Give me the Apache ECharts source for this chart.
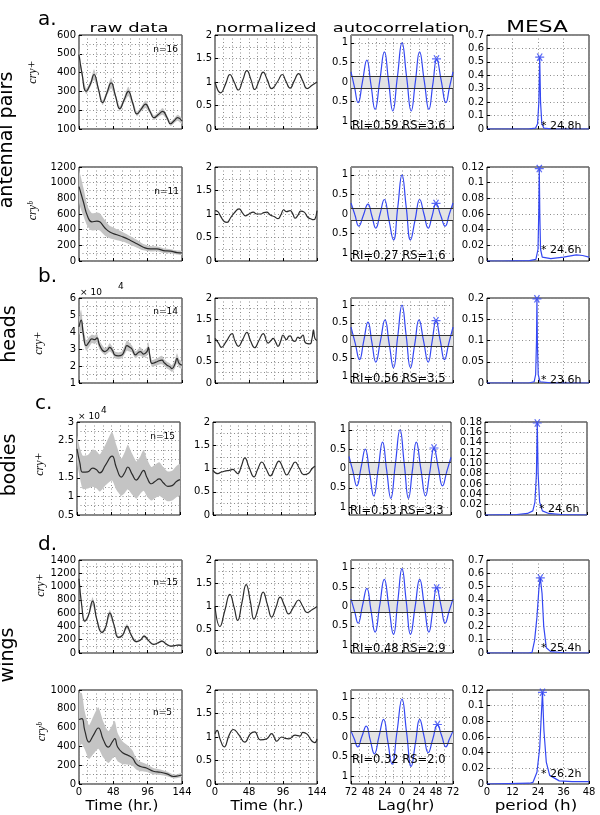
<!DOCTYPE html>
<html>
<head>
<meta charset="utf-8">
<script src="https://cdn.jsdelivr.net/npm/echarts@6/dist/echarts.min.js"></script>
<style>
  html, body { margin: 0; padding: 0; background: #fff; }
  #container { width: 600px; height: 815px; }
</style>
</head>
<body>
<div id="container"></div>
<script>
// ---- raw data: [hour, value], band = +/- error ----
var antCryRaw = [[0,495],[4,400],[10,300],[16,340],[21,390],[27,315],[33,240],[39,292],[45,345],[51,276],[57,208],[63,254],[69,300],[75,240],[81,180],[87,206],[93,232],[99,196],[105,160],[111,177],[117,194],[123,161],[128,128],[133,144],[138,160],[144,142]];
var antCryRawErr = [30,20,15,15,28,15,12,15,28,15,12,15,25,15,12,12,20,12,12,12,18,12,12,12,16,15];
var antCrybRaw = [[0,950],[6,760],[12,570],[18,500],[25,510],[29,500],[36,425],[43,370],[53,335],[62,305],[72,262],[81,220],[90,176],[100,155],[109,155],[118,133],[128,125],[137,108],[144,103]];
var antCrybRawErr = [200,180,130,110,110,110,100,80,70,60,55,50,40,35,30,30,25,25,25];
var headCryRaw = [[0,4.3],[3,4.7],[6,3.9],[10,3.2],[14,3.4],[18,3.6],[22,3.55],[25,3.65],[29,3.2],[36,2.85],[40,2.95],[43,3.1],[47,2.9],[50,2.65],[55,2.6],[60,2.65],[64,2.95],[67,3.2],[71,3.1],[74,3.0],[79,2.65],[83,2.8],[86,2.85],[90,2.7],[95,2.85],[97,3.1],[99,2.6],[102,2.15],[106,2.2],[109,2.25],[116,2.35],[119,2.2],[123,2.05],[127,1.95],[130,1.85],[134,2.1],[137,2.45],[140,2.15],[144,2.05]];
var headCryRawErr = [0.5,0.6,0.4,0.3,0.3,0.25,0.25,0.25,0.25,0.2,0.2,0.25,0.2,0.2,0.2,0.2,0.25,0.3,0.25,0.2,0.2,0.2,0.25,0.2,0.25,0.3,0.25,0.2,0.2,0.2,0.25,0.2,0.2,0.2,0.2,0.25,0.3,0.25,0.2];
var bodyCryRaw = [[0,2.28],[4,1.9],[8,1.65],[15,1.66],[22,1.76],[27,1.72],[32,1.63],[40,1.85],[49,2.08],[55,1.78],[62,1.52],[67,1.65],[71,1.79],[77,1.6],[83,1.44],[88,1.56],[93,1.7],[98,1.5],[104,1.34],[109,1.4],[115,1.47],[121,1.36],[127,1.27],[133,1.29],[139,1.4],[144,1.45]];
var bodyCryRawErr = [0.35,0.4,0.45,0.45,0.5,0.5,0.5,0.55,0.65,0.6,0.5,0.55,0.6,0.55,0.5,0.5,0.55,0.5,0.45,0.45,0.45,0.42,0.4,0.4,0.42,0.42];
var wingCryRaw = [[0,1120],[4,700],[8,480],[13,560],[19,780],[25,500],[32,310],[37,380],[43,600],[49,420],[55,235],[61,270],[67,400],[73,270],[80,170],[86,195],[91,255],[97,190],[104,130],[110,150],[116,180],[122,135],[128,105],[134,112],[139,120],[144,115]];
var wingCryRawErr = [40,30,20,25,60,25,20,25,50,25,15,20,35,20,15,15,25,15,12,12,15,12,10,10,12,12];
var wingCrybRaw = [[0,686],[4,696],[8,571],[14,446],[20,518],[27,596],[34,471],[41,393],[47,454],[50,482],[54,393],[61,332],[69,304],[75,275],[80,214],[86,186],[95,168],[104,136],[114,125],[123,107],[132,80],[138,85],[144,96]];
var wingCrybRawErr = [280,270,200,180,200,220,190,170,180,190,150,120,100,80,60,50,40,35,30,25,20,20,20];

// ---- normalized: [hour, value] ----
var antCryNorm = [[0,1.0],[8,0.77],[15,0.96],[21,1.16],[27,1.0],[33,0.83],[39,1.03],[45,1.24],[51,1.04],[56,0.84],[62,1.02],[68,1.21],[74,1.04],[80,0.86],[88,1.0],[95,1.16],[100,1.02],[106,0.87],[112,1.03],[118,1.18],[124,1.02],[130,0.86],[137,0.93],[144,1.0]];
var antCrybNorm = [[0,1.07],[4,1.05],[8,0.95],[13,0.84],[17,0.82],[22,0.92],[27,1.02],[34,1.11],[39,1.02],[43,0.96],[48,1.0],[54,1.04],[59,1.0],[64,1.0],[69,1.03],[73,1.04],[78,0.98],[84,0.94],[89,0.9],[93,0.98],[97,1.09],[101,1.05],[106,1.07],[110,1.0],[113,0.91],[117,0.97],[121,1.06],[126,1.04],[131,0.93],[135,0.9],[139,0.88],[141,0.89],[144,1.07]];
var headCryNorm = [[0,1.05],[5,0.94],[9,0.84],[16,0.98],[24,1.16],[28,1.0],[33,0.86],[39,1.02],[45,1.19],[50,1.0],[56,0.83],[62,1.0],[68,1.16],[75,0.94],[79,1.0],[82,1.05],[86,0.95],[89,0.86],[93,1.0],[96,1.13],[101,1.02],[104,1.1],[106,1.11],[110,1.0],[113,0.98],[117,1.08],[120,1.05],[124,1.13],[128,0.94],[134,0.92],[137,1.05],[139,1.25],[141,1.05],[144,1.0]];
var bodyCryNorm = [[0,0.96],[4,0.9],[7,0.89],[11,0.92],[14,0.93],[18,0.95],[23,0.96],[28,0.98],[32,0.93],[35,0.89],[40,1.05],[45,1.23],[51,1.02],[58,0.82],[63,0.98],[69,1.14],[75,0.99],[81,0.84],[87,1.0],[93,1.16],[99,1.0],[104,0.86],[110,1.0],[116,1.14],[122,1.0],[128,0.87],[135,0.9],[140,1.0],[144,1.05]];
var wingCryNorm = [[0,1.0],[7,0.57],[14,0.92],[21,1.26],[27,0.98],[32,0.7],[38,1.08],[44,1.47],[50,1.1],[55,0.73],[62,1.02],[68,1.31],[74,1.04],[80,0.77],[86,0.98],[92,1.2],[98,1.02],[104,0.84],[111,0.99],[118,1.14],[124,1.0],[130,0.87],[137,0.93],[144,1.0]];
var wingCrybNorm = [[0,1.07],[3,1.14],[7,0.96],[13,0.79],[20,1.04],[26,1.16],[34,1.04],[42,0.89],[50,1.07],[56,1.11],[64,0.94],[73,0.96],[80,1.07],[84,0.98],[87,0.91],[94,1.0],[99,0.97],[104,0.96],[113,1.04],[120,1.02],[124,1.1],[130,1.06],[135,0.95],[138,0.9],[141,0.88],[144,0.96]];

// ---- autocorrelation: [lag, r] ----
var antCryAcf = [[-72,0.26],[-67,-0.14],[-62,-0.53],[-55.8,0.01],[-49.6,0.56],[-43.8,-0.07],[-38,-0.7],[-31.4,0.03],[-24.8,0.77],[-18.9,0.01],[-13,-0.74],[-6.5,0.13],[0,1.0],[6.5,0.13],[13,-0.74],[18.9,0.01],[24.8,0.77],[31.4,0.03],[38,-0.7],[43.5,-0.06],[49,0.58],[55.5,0.02],[62,-0.53],[67,-0.14],[72,0.26]];
var antCrybAcf = [[-72,0.28],[-66.5,-0.02],[-61,-0.31],[-54.5,-0.03],[-48,0.25],[-42.5,-0.05],[-37,-0.36],[-31,0.0],[-25,0.37],[-18.5,-0.15],[-12,-0.66],[-6,0.17],[0,1.0],[6,0.17],[12,-0.66],[18.5,-0.15],[25,0.37],[31,0.0],[37,-0.36],[42.5,-0.05],[48,0.26],[54.5,-0.03],[61,-0.31],[66.5,-0.02],[72,0.28]];
var headCryAcf = [[-72,0.38],[-66,-0.08],[-60,-0.54],[-54,-0.01],[-48,0.52],[-42.5,-0.05],[-37,-0.61],[-30.5,-0.02],[-24,0.58],[-18,-0.1],[-12,-0.77],[-6,0.12],[0,1.0],[6,0.12],[12,-0.77],[18,-0.1],[24,0.58],[30.5,-0.02],[37,-0.61],[42.5,-0.03],[48,0.55],[54,0.0],[60,-0.54],[66,-0.08],[72,0.38]];
var bodyCryAcf = [[-72,0.31],[-66.5,-0.07],[-61,-0.45],[-55,0.02],[-49,0.5],[-43,-0.1],[-37,-0.71],[-30.8,-0.02],[-24.6,0.68],[-18.8,-0.05],[-13,-0.77],[-6.5,0.12],[0,1.0],[6,0.12],[12,-0.77],[17.5,-0.05],[23,0.68],[29.5,-0.02],[36,-0.71],[42,-0.1],[48,0.52],[54,0.03],[60,-0.45],[66,-0.08],[72,0.29]];
var wingCryAcf = [[-72,0.19],[-67,-0.12],[-62,-0.43],[-55.8,0.02],[-49.6,0.47],[-43.8,-0.1],[-38,-0.66],[-31.5,0.02],[-25,0.7],[-18.5,-0.01],[-12,-0.72],[-6,0.13],[0,0.98],[6,0.13],[12,-0.72],[18.5,-0.01],[25,0.7],[31.5,0.02],[38,-0.66],[43.5,-0.09],[49,0.48],[55,0.03],[61,-0.43],[66.5,-0.12],[72,0.19]];
var wingCrybAcf = [[-72,0.15],[-67.3,-0.05],[-62.6,-0.25],[-56.5,0.02],[-50.5,0.28],[-44.8,-0.08],[-39,-0.43],[-32.5,0.01],[-26,0.45],[-20,-0.12],[-14,-0.69],[-7,0.14],[0,0.97],[6.5,0.11],[13,-0.75],[19,-0.15],[25,0.45],[31,0.03],[37,-0.4],[43.5,-0.05],[50,0.31],[56,0.03],[62,-0.25],[67,-0.05],[72,0.15]];
var acfStars = [[48.7,0.59],[48,0.27],[48,0.56],[48,0.53],[49,0.48],[50,0.32]];
var acfLimit = [0.155, 0.155, 0.155, 0.155, 0.16, 0.155];

// ---- MESA spectra: [period h, power] ----
var antCryMesa = [[0,0],[20,0.001],[22.8,0.006],[23.8,0.04],[24.4,0.2],[24.8,0.535],[25.2,0.2],[25.8,0.04],[26.8,0.006],[30,0.001],[48,0]];
var antCrybMesa = [[0,0],[7.6,0],[7.8,0.002],[8.0,0],[20,0.0005],[23,0.002],[24,0.015],[24.35,0.06],[24.6,0.118],[24.85,0.06],[25.2,0.015],[26,0.005],[30,0.003],[36,0.005],[42,0.0078],[45,0.007],[48,0.005]];
var headCryMesa = [[0,0],[20,0.0005],[22.2,0.003],[22.9,0.02],[23.3,0.1],[23.5,0.198],[23.7,0.1],[24.1,0.02],[24.9,0.003],[30,0.0005],[48,0]];
var bodyCryMesa = [[0,0],[15,0.001],[20,0.003],[22.5,0.008],[23.5,0.025],[24.2,0.08],[24.6,0.178],[25.0,0.08],[25.7,0.025],[27,0.008],[30,0.003],[36,0.001],[48,0]];
var wingCryMesa = [[0,0],[20,0.001],[21.2,0.005],[22.4,0.095],[23.5,0.27],[24.5,0.5],[25.1,0.565],[25.9,0.45],[26.7,0.2],[27.9,0.04],[30,0.01],[36,0.002],[48,0]];
var wingCrybMesa = [[0,0],[20,0.001],[21.6,0.002],[23.5,0.015],[24.8,0.046],[25.6,0.09],[26.1,0.117],[26.8,0.068],[27.9,0.028],[29.5,0.011],[34,0.004],[40,0.003],[48,0.003]];
var mesaStars = [[24.8,0.535],[24.6,0.118],[23.5,0.198],[24.6,0.178],[25.1,0.565],[26.1,0.117]];

// ---- axis ranges / tick labels ----
var rawYMin = [100, 0, 1, 0.5, 0, 0];
var rawYMax = [600, 1200, 6, 3, 1400, 1000];
var rawYStep = [100, 200, 1, 0.5, 200, 200];
var mesaYMax = [0.7, 0.12, 0.2, 0.18, 0.7, 0.12];
var mesaYStep = [0.1, 0.02, 0.05, 0.02, 0.1, 0.02];
var acfTicks = [-1, -0.5, 0, 0.5, 1];

// ---- texts ----
var columnTitles = ['raw data', 'normalized', 'autocorrelation', 'MESA'];
var bottomTitles = ['Time (hr.)', 'Time (hr.)', 'Lag(hr)', 'period (h)'];
var groupNames = ['antennal pairs', 'heads', 'bodies', 'wings'];
var groupLetters = ['a.', 'b.', 'c.', 'd.'];
var genotypes = ['cry+', 'cry\u1d47', 'cry+', 'cry+', 'cry+', 'cry\u1d47'];
var sampleSizes = ['n=16', 'n=11', 'n=14', 'n=15', 'n=15', 'n=5'];
var rhythmStats = ['RI=0.59 RS=3.6', 'RI=0.27 RS=1.6', 'RI=0.56 RS=3.5', 'RI=0.53 RS=3.3', 'RI=0.48 RS=2.9', 'RI=0.32 RS=2.0'];
var mesaPeriods = ['24.8h', '24.6h', '23.6h', '24.6h', '25.4h', '26.2h'];

var rawSeries = [antCryRaw, antCrybRaw, headCryRaw, bodyCryRaw, wingCryRaw, wingCrybRaw];
var rawErrors = [antCryRawErr, antCrybRawErr, headCryRawErr, bodyCryRawErr, wingCryRawErr, wingCrybRawErr];
var normSeries = [antCryNorm, antCrybNorm, headCryNorm, bodyCryNorm, wingCryNorm, wingCrybNorm];
var acfSeries = [antCryAcf, antCrybAcf, headCryAcf, bodyCryAcf, wingCryAcf, wingCrybAcf];
var mesaSeries = [antCryMesa, antCrybMesa, headCryMesa, bodyCryMesa, wingCryMesa, wingCrybMesa];

// layout
var colLeft = [79, 215, 351, 487];
var colWidth = [103, 102, 102, 102];
var rowTop = [35, 167, 298, 422, 560, 690];
var rowHeight = [94, 94, 85, 93, 93, 94];
var rowShift = [0, 0, 0, -2, 0, 0];

var blue = '#3447f2';
var dots = { color: '#8c8c8c', type: [1, 2.5], width: 1 };
var asterisk = 'path://M0,4.3L10,4.3L10,5.7L0,5.7Z M1.6,0.9L2.8,0.2L8.4,9.1L7.2,9.8Z M7.2,0.2L8.4,0.9L2.8,9.8L1.6,9.1Z';

function baseAxis(gi, showLabel) {
    return {
        type: 'value',
        gridIndex: gi,
        axisLine: { show: false, onZero: false },
        axisTick: { show: true, inside: true, length: 3, lineStyle: { color: '#000' } },
        axisLabel: { show: showLabel, fontFamily: 'DejaVu Sans', fontSize: 10, color: '#000', margin: 3 },
        splitLine: { show: true, lineStyle: dots },
        minorTick: { show: false, splitNumber: 2 },
        minorSplitLine: { show: false, lineStyle: dots }
    };
}

function bandRenderer(points, errs) {
    return function (params, api) {
        if (params.dataIndex !== 0) return null;
        var upper = [], lower = [];
        for (var i = 0; i < points.length; i++) {
            upper.push(api.coord([points[i][0], points[i][1] + errs[i]]));
            lower.unshift(api.coord([points[i][0], points[i][1] - errs[i]]));
        }
        return {
            type: 'polygon',
            shape: { points: upper.concat(lower), smooth: 0.2 },
            style: { fill: '#c4c4c4' }
        };
    };
}

var grids = [], xAxes = [], yAxes = [], series = [];

for (var r = 0; r < 6; r++) {
    var last = r === 5;
    for (var c = 0; c < 4; c++) {
        var gi = r * 4 + c;
        grids.push({
            left: colLeft[c] + rowShift[r], top: rowTop[r], width: colWidth[c], height: rowHeight[r],
            show: true, borderColor: '#111', borderWidth: 1, backgroundColor: 'transparent',
            containLabel: false, outerBoundsMode: 'none'
        });
        var xa = baseAxis(gi, last);
        var ya = baseAxis(gi, true);
        if (c < 2) {
            xa.min = 0; xa.max = 144; xa.interval = 48;
            xa.minorTick.splitNumber = 4; xa.minorSplitLine.show = true;
            ya.minorSplitLine.show = true;
            if (c === 0) {
                ya.min = rawYMin[r]; ya.max = rawYMax[r]; ya.interval = rawYStep[r];
                ya.axisLabel.formatter = function (v) { return String(v); };
            } else {
                ya.min = 0; ya.max = 2; ya.interval = 0.5;
            }
        } else if (c === 2) {
            xa.min = -72; xa.max = 72; xa.interval = 24;
            xa.minorSplitLine.show = true;
            xa.axisLabel.formatter = function (v) { return String(Math.abs(v)); };
            ya.min = -1.2; ya.max = 1.2;
            ya.axisLabel.customValues = acfTicks;
            ya.axisTick.customValues = acfTicks;
            ya.axisLabel.formatter = function (v) { return String(Math.abs(v)); };
        } else {
            xa.min = 0; xa.max = 48; xa.interval = 12;
            ya.min = 0; ya.max = mesaYMax[r]; ya.interval = mesaYStep[r];
            if (r === 3) {
                ya.axisLabel.formatter = function (v) { return v === 0 ? '0' : v.toFixed(2); };
            }
        }
        xAxes.push(xa);
        yAxes.push(ya);
    }

    var g0 = r * 4;
    // raw data with grey band
    series.push({
        type: 'custom', xAxisIndex: g0, yAxisIndex: g0, silent: true, clip: true, z: 1,
        data: rawSeries[r], renderItem: bandRenderer(rawSeries[r], rawErrors[r])
    });
    series.push({
        type: 'line', xAxisIndex: g0, yAxisIndex: g0, data: rawSeries[r], smooth: 0.5,
        symbol: 'none', silent: true, z: 3, lineStyle: { color: '#2b2b2b', width: 1.2 }
    });
    // normalized
    series.push({
        type: 'line', xAxisIndex: g0 + 1, yAxisIndex: g0 + 1, data: normSeries[r], smooth: 0.5,
        symbol: 'none', silent: true, z: 3, lineStyle: { color: '#2b2b2b', width: 1.2 }
    });
    // autocorrelation: significance band, curve, marked peak
    series.push({
        type: 'line', xAxisIndex: g0 + 2, yAxisIndex: g0 + 2, data: acfSeries[r],
        symbol: 'none', silent: true, z: 1, lineStyle: { opacity: 0 },
        markArea: {
            silent: true, itemStyle: { color: '#e3e3e3' },
            data: [[{ yAxis: -acfLimit[r] }, { yAxis: acfLimit[r] }]]
        },
        markLine: {
            silent: true, symbol: ['none', 'none'], label: { show: false },
            lineStyle: { color: '#333', type: 'solid', width: 1 },
            data: [{ yAxis: acfLimit[r] }, { yAxis: -acfLimit[r] }]
        }
    });
    series.push({
        type: 'line', xAxisIndex: g0 + 2, yAxisIndex: g0 + 2, data: acfSeries[r], smooth: 0.5,
        symbol: 'none', silent: true, z: 3, lineStyle: { color: blue, width: 1.2 }
    });
    series.push({
        type: 'scatter', xAxisIndex: g0 + 2, yAxisIndex: g0 + 2, data: [acfStars[r]],
        symbol: asterisk, symbolSize: [9, 8], silent: true, z: 4, itemStyle: { color: blue }
    });
    // MESA
    series.push({
        type: 'line', xAxisIndex: g0 + 3, yAxisIndex: g0 + 3, data: mesaSeries[r],
        symbol: 'none', silent: true, z: 3, lineStyle: { color: blue, width: 1.2 }
    });
    series.push({
        type: 'scatter', xAxisIndex: g0 + 3, yAxisIndex: g0 + 3, data: [mesaStars[r]],
        symbol: asterisk, symbolSize: [9, 8], silent: true, z: 4, itemStyle: { color: blue }
    });
}

// ---- free text ----
function txt(text, x, y, font, opts) {
    opts = opts || {};
    return {
        type: 'text', x: x, y: y, z: 100, silent: true,
        rotation: opts.rotation || 0, scaleX: opts.scaleX || 1,
        style: {
            text: text, font: font, fill: '#000',
            align: opts.align || 'center', textAlign: opts.align || 'center',
            verticalAlign: 'middle', textVerticalAlign: 'middle'
        }
    };
}

var graphics = [];
var titleX = [129, 266, 401, 537];
graphics.push(txt(columnTitles[0], titleX[0], 29, '13px "DejaVu Sans"', { scaleX: 1.38 }));
graphics.push(txt(columnTitles[1], titleX[1], 29, '13px "DejaVu Sans"', { scaleX: 1.4 }));
graphics.push(txt(columnTitles[2], titleX[2], 29, '13px "DejaVu Sans"', { scaleX: 1.38 }));
graphics.push(txt(columnTitles[3], titleX[3], 28, '15px "DejaVu Sans"', { scaleX: 1.45 }));

var bottomX = [122, 267, 406, 536];
var bottomScale = [1.08, 1.08, 1.12, 1.2];
for (var i = 0; i < 4; i++) {
    graphics.push(txt(bottomTitles[i], bottomX[i], 806, '14px "DejaVu Sans"', { scaleX: bottomScale[i] }));
}

var groupX = [7, 10, 10, 8.5];
var groupY = [140, 334, 465, 655];
var letterX = [38, 38, 35, 38];
var letterY = [20, 277, 404, 545];
for (var k = 0; k < 4; k++) {
    graphics.push(txt(groupNames[k], groupX[k], groupY[k], '19px "DejaVu Sans"', { rotation: Math.PI / 2 }));
    graphics.push(txt(groupLetters[k], letterX[k], letterY[k], '20px "DejaVu Sans"', { align: 'left' }));
}

var genoX = [33, 33, 39, 40, 41, 42];
var genoY = [72, 211, 343, 464, 585, 732];
var nY = [50, 192, 312, 437, 583, 713];
var nRight = [178, 179, 178, 177, 178, 172];
var riY = [126, 256, 379, 511, 649, 760];
var mesaLabelY = [126, 250, 380, 509, 648, 774];
for (var j = 0; j < 6; j++) {
    graphics.push(txt(genotypes[j], genoX[j], genoY[j], 'italic 12px "Liberation Serif"', { rotation: Math.PI / 2 }));
    graphics.push(txt(sampleSizes[j], nRight[j] + rowShift[j], nY[j], '9px "DejaVu Sans"', { align: 'right' }));
    graphics.push(txt(rhythmStats[j], 352 + rowShift[j], riY[j], '11.5px "DejaVu Sans"', { align: 'left' }));
    graphics.push(txt('* ' + mesaPeriods[j], 541 + rowShift[j], mesaLabelY[j], '11px "DejaVu Sans"', { align: 'left' }));
}
// scale factors on the two x10^4 panels
graphics.push(txt('\u00d7 10', 80, 293, '9px "DejaVu Sans"', { align: 'left' }));
graphics.push(txt('4', 118, 287, '9px "DejaVu Sans"', { align: 'left' }));
graphics.push(txt('\u00d7 10', 78, 417, '9px "DejaVu Sans"', { align: 'left' }));
graphics.push(txt('4', 101, 411, '9px "DejaVu Sans"', { align: 'left' }));

var chart = echarts.init(document.getElementById('container'), null, { renderer: 'canvas' });
chart.setOption({
    animation: false,
    backgroundColor: '#fff',
    grid: grids,
    xAxis: xAxes,
    yAxis: yAxes,
    series: series,
    graphic: graphics
});
</script>
</body>
</html>
